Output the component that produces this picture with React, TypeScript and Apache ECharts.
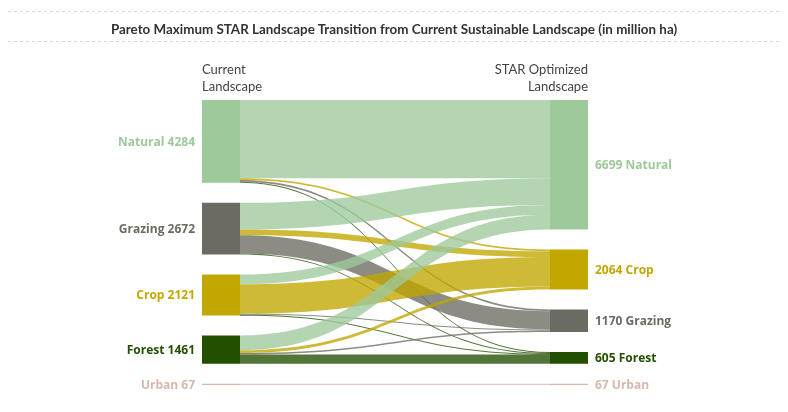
import React, { useEffect, useRef } from "react";
import * as echarts from "echarts";

const titleText =
  "Pareto Maximum STAR Landscape Transition from Current Sustainable Landscape (in million ha)";
const leftHeader = "Current\nLandscape";
const rightHeader = "STAR Optimized\nLandscape";

const categories = ["Natural", "Grazing", "Crop", "Forest", "Urban"];
const categoryColors = ["#9dc99b", "#6b6b61", "#c2a700", "#234f00", "#d6b8ac"];

// Current landscape (left column), in display order
const leftOrder = ["Natural", "Grazing", "Crop", "Forest", "Urban"];
const leftValues = [4284, 2672, 2121, 1461, 67];

// STAR optimized landscape (right column), in display order
const rightOrder = ["Natural", "Crop", "Grazing", "Forest", "Urban"];
const rightValues = [6699, 2064, 1170, 605, 67];

// Transitions: source (current) -> target (optimized)
const flowSources = [
  "Natural", "Natural", "Natural", "Natural",
  "Grazing", "Grazing", "Grazing", "Grazing",
  "Crop", "Crop", "Crop", "Crop",
  "Forest", "Forest", "Forest", "Forest",
  "Urban",
];
const flowTargets = [
  "Natural", "Crop", "Grazing", "Forest",
  "Natural", "Crop", "Grazing", "Forest",
  "Natural", "Crop", "Grazing", "Forest",
  "Natural", "Crop", "Grazing", "Forest",
  "Urban",
];
const flowValues = [
  4050, 94, 90, 50,
  1380, 300, 947, 45,
  510, 1520, 51, 40,
  759, 150, 82, 470,
  67,
];

const colorOf = (c: string) => categoryColors[categories.indexOf(c)];
const FONT = "Lato, 'Open Sans', sans-serif";
const LABEL_FONT = "'Open Sans', Lato, sans-serif";

export default function App() {
  const ref = useRef<HTMLDivElement>(null);

  useEffect(() => {
    if (!ref.current) return;
    const chart = echarts.init(ref.current, undefined, { renderer: "svg" });

    const nodes: any[] = [];
    leftOrder.forEach((c, i) => {
      nodes.push({
        name: "L_" + c,
        value: leftValues[i],
        itemStyle: { color: colorOf(c), borderWidth: 0 },
        label: {
          position: "left",
          formatter: `${c} ${leftValues[i]}`,
          color: colorOf(c),
        },
      });
    });
    rightOrder.forEach((c, i) => {
      nodes.push({
        name: "R_" + c,
        value: rightValues[i],
        itemStyle: { color: colorOf(c), borderWidth: 0 },
        label: {
          position: "right",
          formatter: `${rightValues[i]} ${c}`,
          color: colorOf(c),
        },
      });
    });

    const links = flowValues.map((v, i) => ({
      source: "L_" + flowSources[i],
      target: "R_" + flowTargets[i],
      value: v,
      lineStyle: { color: colorOf(flowTargets[i]) },
    }));

    chart.setOption({
      animation: false,
      title: {
        text: titleText,
        left: "center",
        top: 17,
        textStyle: {
          fontFamily: FONT,
          fontSize: 13.4,
          fontWeight: "bold",
          color: "#333",
        },
      },
      graphic: [
        {
          type: "line",
          shape: { x1: 8, y1: 11.5, x2: 780, y2: 11.5 },
          style: { stroke: "#d8d8d8", lineWidth: 1, lineDash: [3, 3] },
        },
        {
          type: "line",
          shape: { x1: 8, y1: 41.5, x2: 780, y2: 41.5 },
          style: { stroke: "#d8d8d8", lineWidth: 1, lineDash: [3, 3] },
        },
        {
          type: "text",
          x: 202,
          y: 60,
          style: {
            text: leftHeader,
            font: `13px ${FONT}`,
            fill: "#444",
            lineHeight: 17,
            align: "left",
          },
        },
        {
          type: "text",
          x: 588,
          y: 60,
          style: {
            text: rightHeader,
            font: `13px ${FONT}`,
            fill: "#444",
            lineHeight: 17,
            align: "right",
          },
        },
      ],
      series: [
        {
          type: "sankey",
          left: 202,
          right: 200,
          top: 100,
          bottom: 27,
          nodeWidth: 38,
          nodeGap: 20,
          layoutIterations: 0,
          draggable: false,
          emphasis: { disabled: true },
          label: {
            fontFamily: LABEL_FONT,
            fontSize: 12,
            fontWeight: "bold",
            distance: 7,
          },
          lineStyle: { opacity: 0.78, curveness: 0.5 },
          data: nodes,
          links: links,
        },
      ],
    });

    return () => chart.dispose();
  }, []);

  return (
    <div
      ref={ref}
      style={{ position: "fixed", left: 0, top: 0, width: 788, height: 412 }}
    />
  );
}
